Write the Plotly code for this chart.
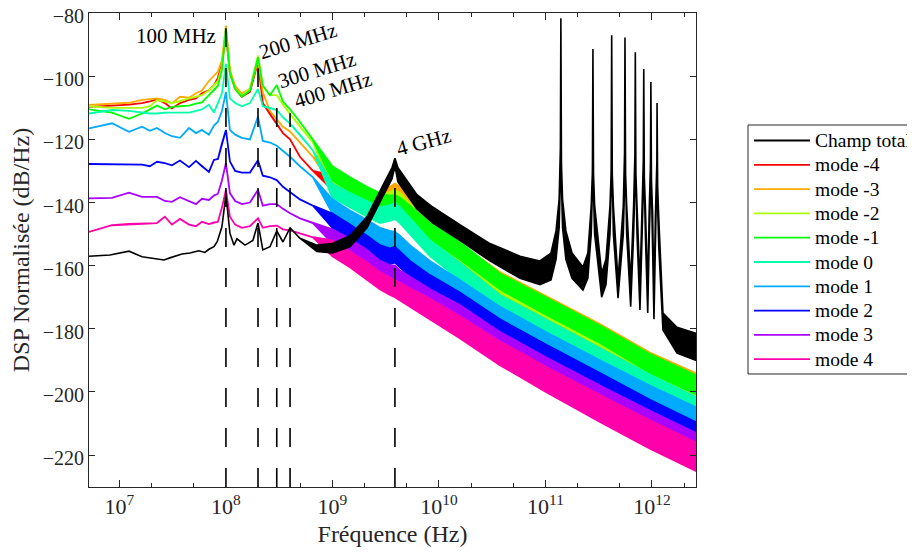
import math
import plotly.graph_objects as go

FONT = "Liberation Serif, Times New Roman, serif"

# ---------------- data ----------------
FREQ = [5.18e6, 8.51e6, 1.23e7, 1.63e7, 1.93e7, 2.25e7, 2.67e7, 3.11e7, 3.70e7, 4.50e7,
        5.23e7, 5.95e7, 6.92e7, 7.71e7, 8.41e7, 9.17e7, 1.0e8, 1.09e8, 1.22e8, 1.41e8,
        1.68e8, 2.0e8, 2.22e8, 2.59e8, 3.0e8, 3.43e8, 4.0e8, 4.95e8, 6.56e8,
        1.0e9, 1.46e9, 2.11e9, 2.79e9, 3.47e9, 3.86e9, 4.31e9, 5.34e9, 8.23e9, 1.57e10,
        3.74e10, 1.01e11, 3.25e11, 9.57e11, 2.59e12]

MODE_NAMES = ["mode -4", "mode -3", "mode -2", "mode -1", "mode 0",
              "mode 1", "mode 2", "mode 3", "mode 4"]
MODE_COLORS = ["#FF0000", "#FFAA00", "#AAFF00", "#00FF00", "#00FFAA",
               "#00AAFF", "#0000FF", "#AA00FF", "#FF00AA"]

# thin-line part (5 MHz .. 650 MHz), dB/Hz
LOW_M4 = [-109.7, -109.3, -109.0, -108.5, -108.0, -107.3, -108.5, -110.2, -108.5, -107.5, -107.0, -105.4, -104.5, -102.8, -100.5, -96.0, -87.0, -99.0, -104.0, -106.5, -105.0, -95.5, -108.5, -112.0, -115.0, -118.0, -120.0, -125.5, -130.0]
LOW_M3 = [-109.1, -108.8, -108.4, -107.5, -107.2, -107.0, -107.5, -108.6, -106.5, -106.8, -105.4, -104.5, -101.5, -100.0, -98.5, -94.9, -84.0, -98.0, -103.0, -105.5, -104.0, -95.0, -105.0, -111.0, -113.5, -116.0, -117.5, -121.0, -125.5]
LOW_M2 = [-109.5, -110.0, -110.0, -110.0, -109.5, -107.6, -108.0, -108.5, -108.0, -107.0, -106.5, -106.0, -104.5, -103.0, -101.5, -97.0, -85.0, -99.0, -104.0, -106.0, -104.0, -93.5, -103.0, -106.0, -106.0, -109.0, -112.0, -116.0, -121.0]
LOW_M1 = [-110.5, -111.5, -113.5, -111.8, -110.5, -109.3, -110.5, -109.7, -109.5, -109.3, -108.7, -108.3, -106.0, -104.5, -103.0, -98.0, -85.0, -99.0, -104.0, -106.5, -104.5, -94.0, -103.0, -106.0, -102.8, -108.0, -110.5, -114.4, -120.2]
LOW_P0 = [-111.8, -110.7, -111.0, -111.5, -111.8, -111.8, -111.5, -111.5, -111.5, -111.5, -111.0, -110.5, -109.0, -111.5, -108.5, -105.4, -96.0, -107.0, -108.5, -109.5, -108.5, -104.0, -109.5, -110.0, -110.7, -113.0, -115.0, -118.5, -123.5]
LOW_P1 = [-116.5, -114.9, -117.6, -116.0, -117.3, -116.4, -118.0, -119.0, -119.5, -116.4, -118.0, -117.0, -118.5, -115.6, -114.4, -111.0, -105.0, -117.0, -118.5, -119.5, -120.0, -112.8, -120.5, -121.0, -122.0, -123.5, -125.5, -128.5, -132.0]
LOW_P2 = [-127.8, -127.8, -127.9, -128.0, -128.5, -127.1, -127.5, -128.2, -126.7, -128.8, -126.8, -128.5, -130.3, -126.5, -126.2, -121.3, -117.0, -127.0, -130.0, -130.5, -130.5, -126.6, -131.5, -132.0, -132.9, -135.0, -136.6, -139.0, -141.0]
LOW_P3 = [-138.7, -138.5, -136.9, -138.2, -138.2, -138.2, -139.5, -139.8, -138.3, -139.5, -140.5, -138.8, -139.2, -137.8, -137.2, -133.0, -127.5, -137.0, -139.5, -140.5, -140.0, -136.0, -141.0, -140.5, -140.5, -142.0, -143.4, -145.0, -146.5]
LOW_P4 = [-149.3, -147.2, -146.8, -146.6, -146.6, -146.5, -144.5, -147.0, -145.2, -147.0, -147.5, -146.1, -146.8, -146.3, -146.1, -141.6, -136.0, -144.5, -147.0, -148.0, -147.5, -145.0, -148.0, -147.5, -147.3, -148.5, -148.8, -149.8, -151.0]

# noisy part (1 GHz .. 2.6 THz): upper and lower edges of each band
HI_UP_M4 = [-131.5, -134.5, -138.0, -140.0, -140.0, -140.0, -141.0, -143.5, -148.0, -154.0, -163.5, -171.0, -180.0, -189.0, -195.5]
HI_LO_M4 = [-136.0, -139.0, -143.0, -145.0, -145.0, -145.0, -146.0, -148.5, -153.0, -159.5, -168.5, -176.5, -185.5, -195.0, -201.5]
HI_UP_M3 = [-130.5, -133.5, -136.5, -137.0, -135.0, -134.0, -135.0, -138.5, -146.0, -153.0, -162.0, -169.5, -178.5, -187.5, -194.1]
HI_LO_M3 = [-135.0, -138.0, -141.5, -142.0, -140.0, -139.0, -140.0, -143.5, -151.0, -158.5, -167.0, -175.0, -184.0, -193.5, -200.1]
HI_UP_M2 = [-131.5, -134.5, -137.0, -138.0, -136.8, -136.0, -137.0, -140.5, -147.5, -155.0, -166.0, -173.5, -182.5, -190.5, -196.5]
HI_LO_M2 = [-136.0, -139.0, -142.0, -143.0, -141.8, -141.0, -142.0, -145.5, -152.5, -160.5, -171.0, -179.0, -188.0, -196.5, -202.5]
HI_UP_M1 = [-128.5, -132.0, -135.0, -137.0, -137.8, -137.7, -138.5, -141.0, -146.5, -152.5, -162.5, -170.0, -179.0, -188.0, -194.7]
HI_LO_M1 = [-133.0, -136.5, -140.0, -142.0, -142.8, -142.7, -143.5, -146.0, -151.5, -158.0, -167.5, -175.5, -184.5, -194.0, -200.7]
HI_UP_P0 = [-134.0, -137.0, -139.5, -141.5, -140.8, -140.2, -141.5, -145.0, -152.0, -159.0, -169.3, -177.0, -186.0, -194.5, -201.6]
HI_LO_P0 = [-138.5, -141.5, -144.5, -146.5, -145.8, -145.2, -146.5, -150.0, -157.0, -164.5, -174.3, -182.5, -191.5, -200.5, -207.6]
HI_UP_P1 = [-139.0, -142.5, -145.5, -148.0, -149.0, -149.3, -150.5, -153.5, -158.5, -164.5, -173.0, -181.0, -190.0, -198.0, -204.8]
HI_LO_P1 = [-143.5, -147.0, -150.5, -153.0, -154.0, -154.3, -155.5, -158.5, -163.5, -170.0, -178.0, -186.5, -195.5, -204.0, -210.8]
HI_UP_P2 = [-143.5, -147.0, -150.5, -153.5, -154.5, -154.0, -155.5, -158.5, -163.0, -168.5, -177.0, -185.0, -194.0, -202.5, -209.6]
HI_LO_P2 = [-148.0, -151.5, -155.5, -158.5, -159.5, -159.0, -160.5, -163.5, -168.0, -174.0, -182.0, -190.5, -199.5, -208.5, -215.6]
HI_UP_P3 = [-148.5, -151.5, -155.0, -158.5, -159.8, -160.0, -161.5, -163.5, -167.5, -172.5, -181.0, -189.0, -198.0, -206.0, -213.0]
HI_LO_P3 = [-153.0, -156.0, -160.0, -163.5, -164.8, -165.0, -166.5, -168.5, -172.5, -178.0, -186.0, -194.5, -203.5, -212.0, -219.0]
HI_UP_P4 = [-152.0, -155.5, -159.0, -162.0, -163.8, -164.5, -165.5, -167.2, -170.5, -176.0, -184.0, -192.0, -201.0, -209.0, -216.0]
HI_LO_P4 = [-157.0, -160.5, -164.5, -167.5, -169.3, -170.0, -171.0, -173.2, -177.0, -183.0, -191.5, -200.0, -209.5, -218.0, -225.0]

# total field ("Champ total")
BLACK_F = [5.18e6, 8.15e6, 1.23e7, 1.63e7, 2.62e7, 2.98e7, 3.86e7, 4.59e7, 5.57e7, 6.35e7,
           6.92e7, 7.71e7, 8.28e7, 9.17e7, 1.0e8, 1.09e8, 1.19e8, 1.27e8, 1.51e8, 1.79e8,
           2.0e8, 2.22e8, 2.59e8, 3.0e8, 3.43e8, 4.0e8, 4.95e8, 7.15e8, 1.0e9, 1.46e9,
           2.11e9, 2.98e9, 3.62e9, 3.86e9, 4.12e9, 6.21e9, 8.79e9, 1.57e10, 3.01e10, 5.77e10,
           8.87e10, 1.127e11, 1.256e11, 1.344e11, 1.377e11, 1.389e11, 1.395e11, 1.401e11, 1.413e11, 1.447e11,
           1.555e11, 1.775e11, 2.25e11, 2.50e11, 2.689e11, 2.754e11, 2.778e11, 2.79e11, 2.802e11, 2.826e11,
           2.895e11, 3.37e11, 3.70e11, 4.034e11, 4.131e11, 4.167e11, 4.185e11, 4.203e11, 4.239e11, 4.342e11,
           4.80e11, 5.378e11, 5.509e11, 5.556e11, 5.58e11, 5.604e11, 5.652e11, 5.789e11, 6.31e11, 6.723e11,
           6.886e11, 6.945e11, 6.975e11, 7.005e11, 7.065e11, 7.236e11, 7.71e11, 8.067e11, 8.263e11, 8.334e11,
           8.37e11, 8.406e11, 8.478e11, 8.684e11, 9.12e11, 9.412e11, 9.640e11, 9.723e11, 9.765e11, 9.807e11,
           9.891e11, 1.0131e12, 1.044e12, 1.0756e12, 1.1017e12, 1.1112e12, 1.116e12, 1.1208e12, 1.1304e12, 1.1578e12,
           1.268e12, 1.718e12, 2.59e12]
BLACK_UP = [-157.0, -156.6, -155.4, -157.2, -158.2, -157.5, -156.3, -156.0, -155.3, -155.8,
            -154.8, -154.0, -152.4, -147.7, -137.5, -149.7, -153.5, -151.5, -153.5, -152.0,
            -146.5, -155.0, -154.0, -149.0, -152.5, -148.0, -151.3, -153.5, -153.0, -150.5,
            -144.5, -134.5, -129.0, -126.0, -129.0, -137.5, -141.5, -147.0, -153.0, -157.0,
            -158.5, -156.0, -149.0, -139.0, -128.0, -119.0, -81.6, -119.0, -128.0, -139.0,
            -149.0, -156.0, -160.4, -156.0, -141.0, -131.0, -122.0, -91.4, -122.0, -131.0,
            -141.0, -162.4, -158.0, -141.0, -131.0, -121.0, -87.0, -121.0, -131.0, -141.0,
            -164.6, -141.0, -131.0, -121.0, -87.7, -121.0, -131.0, -141.0, -165.5, -141.0,
            -131.0, -122.0, -92.4, -122.0, -131.0, -141.0, -166.0, -142.0, -132.0, -124.0,
            -97.7, -124.0, -132.0, -142.0, -168.0, -143.0, -133.0, -125.0, -101.8, -125.0,
            -133.0, -143.0, -170.0, -145.0, -135.0, -127.0, -108.5, -127.0, -135.0, -145.0,
            -175.0, -179.5, -181.4]
BLACK_LO = [-157.0, -156.6, -155.4, -157.2, -158.2, -157.5, -156.3, -156.0, -155.3, -155.8,
            -154.8, -154.0, -152.4, -147.7, -137.5, -149.7, -153.5, -151.5, -153.5, -152.0,
            -146.5, -155.0, -154.0, -149.0, -152.5, -148.0, -151.3, -155.5, -156.0, -154.0,
            -148.0, -138.0, -132.5, -128.5, -133.5, -142.0, -146.5, -152.0, -158.5, -164.0,
            -166.0, -164.5, -158.0, -148.0, -134.0, -122.0, -81.6, -122.0, -134.0, -148.0,
            -158.0, -164.0, -167.7, -164.0, -150.0, -137.0, -126.0, -91.4, -126.0, -137.0,
            -150.0, -170.0, -166.0, -150.0, -137.0, -125.0, -87.0, -125.0, -137.0, -150.0,
            -170.3, -150.0, -137.0, -125.0, -87.7, -125.0, -137.0, -150.0, -173.0, -150.0,
            -137.0, -126.0, -92.4, -126.0, -137.0, -150.0, -174.0, -151.0, -138.0, -128.0,
            -97.7, -128.0, -138.0, -151.0, -175.0, -152.0, -139.0, -129.0, -101.8, -129.0,
            -139.0, -152.0, -177.0, -154.0, -141.0, -131.0, -108.5, -131.0, -141.0, -154.0,
            -180.4, -187.7, -190.0]

# marked frequencies (dashed guides) and their labels
MARK_F = [1.0e8, 2.0e8, 3.0e8, 4.0e8, 3.86e9]
MARK_TOP = [-84.8, -97.5, -103.8, -111.7, -133.0]
MARK_TEXT = ["100 MHz", "200 MHz", "300 MHz", "400 MHz", "4 GHz"]

X_TICKS = [1e7, 1e8, 1e9, 1e10, 1e11, 1e12]
X_TICKTEXT = ["10<sup>7</sup>", "10<sup>8</sup>", "10<sup>9</sup>",
              "10<sup>10</sup>", "10<sup>11</sup>", "10<sup>12</sup>"]
Y_TICKS = [-220, -200, -180, -160, -140, -120, -100, -80]

LOWS = [LOW_M4, LOW_M3, LOW_M2, LOW_M1, LOW_P0, LOW_P1, LOW_P2, LOW_P3, LOW_P4]
HI_UPS = [HI_UP_M4, HI_UP_M3, HI_UP_M2, HI_UP_M1, HI_UP_P0, HI_UP_P1, HI_UP_P2, HI_UP_P3, HI_UP_P4]
HI_LOS = [HI_LO_M4, HI_LO_M3, HI_LO_M2, HI_LO_M1, HI_LO_P0, HI_LO_P1, HI_LO_P2, HI_LO_P3, HI_LO_P4]

# ---------------- figure ----------------
fig = go.Figure()

for name, col, low, hu, hl in zip(MODE_NAMES, MODE_COLORS, LOWS, HI_UPS, HI_LOS):
    upper = low + hu
    lower = low + hl
    assert len(upper) == len(FREQ) and len(lower) == len(FREQ)
    fig.add_trace(go.Scatter(
        x=FREQ + FREQ[::-1], y=upper + lower[::-1],
        mode="lines", fill="toself", fillcolor=col,
        line=dict(color=col, width=1.8), name=name, hoverinfo="skip"))

assert len(BLACK_F) == len(BLACK_UP) == len(BLACK_LO)
fig.add_trace(go.Scatter(
    x=BLACK_F + BLACK_F[::-1], y=BLACK_UP + BLACK_LO[::-1],
    mode="lines", fill="toself", fillcolor="#000000",
    line=dict(color="#000000", width=1.6), name="Champ total", hoverinfo="skip"))

Y_BOTTOM = -230.1
Y_TOP = -79.97
for f, top in zip(MARK_F, MARK_TOP):
    fig.add_trace(go.Scatter(
        x=[f, f], y=[Y_BOTTOM, top], mode="lines",
        line=dict(color="#000000", width=1.6, dash="19px,21px"),
        hoverinfo="skip", showlegend=False))

# labels for the marked frequencies
LABEL_POS = [(3.39e7, -87.3, 0), (4.75e8, -88.9, -17), (7.15e8, -98.1, -17),
             (1.01e9, -104.4, -17), (7.2e9, -120.9, -15)]
for txt, (lx, ly, ang) in zip(MARK_TEXT, LABEL_POS):
    fig.add_annotation(x=math.log10(lx), y=ly, xref="x", yref="y", text=txt,
                       showarrow=False, textangle=ang,
                       font=dict(family=FONT, size=21, color="#000000"))

# ---------------- layout (page body adds an 8 px offset) ----------------
OFF = 8
W, H = 915 - OFF, 559 - OFF
L, R, T, B = 89, 696, 13, 487          # plot area in window pixels


def px(xp):
    return (xp - L) / (R - L)


def py(yp):
    return (B - yp) / (B - T)


# custom legend (matlab style)
fig.add_shape(type="rect", xref="paper", yref="paper",
              x0=px(748), x1=px(930), y0=py(374), y1=py(125),
              line=dict(color="#262626", width=1), fillcolor="white", layer="above")
leg_names = ["Champ total"] + MODE_NAMES
leg_cols = ["#000000"] + MODE_COLORS
for i, (nm, c) in enumerate(zip(leg_names, leg_cols)):
    yc = 140.5 + i * 24.3
    fig.add_shape(type="line", xref="paper", yref="paper",
                  x0=px(754), x1=px(810), y0=py(yc), y1=py(yc),
                  line=dict(color=c, width=1.8), layer="above")
    fig.add_annotation(x=px(813), y=py(yc), xref="paper", yref="paper",
                       xanchor="left", yanchor="middle", text=nm, showarrow=False,
                       font=dict(family=FONT, size=19.5, color="#000000"))

axis_common = dict(showline=True, linecolor="#262626", linewidth=1, mirror="allticks",
                   ticks="inside", tickcolor="#262626", showgrid=False, zeroline=False,
                   automargin=False, ticklabeloverflow="allow")

fig.update_layout(
    width=W, height=H,
    margin=dict(l=L - OFF, r=W - (R - OFF), t=T - OFF, b=H - (B - OFF), autoexpand=False),
    paper_bgcolor="white", plot_bgcolor="white",
    showlegend=False,
    xaxis=dict(type="log", range=[math.log10(5.18e6), math.log10(2.59e12)],
               tickvals=X_TICKS, ticktext=X_TICKTEXT, ticklen=7,
               tickfont=dict(family=FONT, size=22, color="#262626"),
               minor=dict(ticks="inside", ticklen=4, tickcolor="#262626", showgrid=False),
               title=dict(text="Fréquence (Hz)", standoff=6,
                          font=dict(family=FONT, size=24, color="#262626")),
               **axis_common),
    yaxis=dict(range=[Y_BOTTOM, Y_TOP], tickvals=Y_TICKS, ticklen=6,
               ticklabelshift=3,
               tickfont=dict(family=FONT, size=20, color="#262626"),
               title=dict(text="DSP Normalisée (dB/Hz)", standoff=6,
                          font=dict(family=FONT, size=24, color="#262626")),
               **axis_common),
)

fig.write_html("out.html")
